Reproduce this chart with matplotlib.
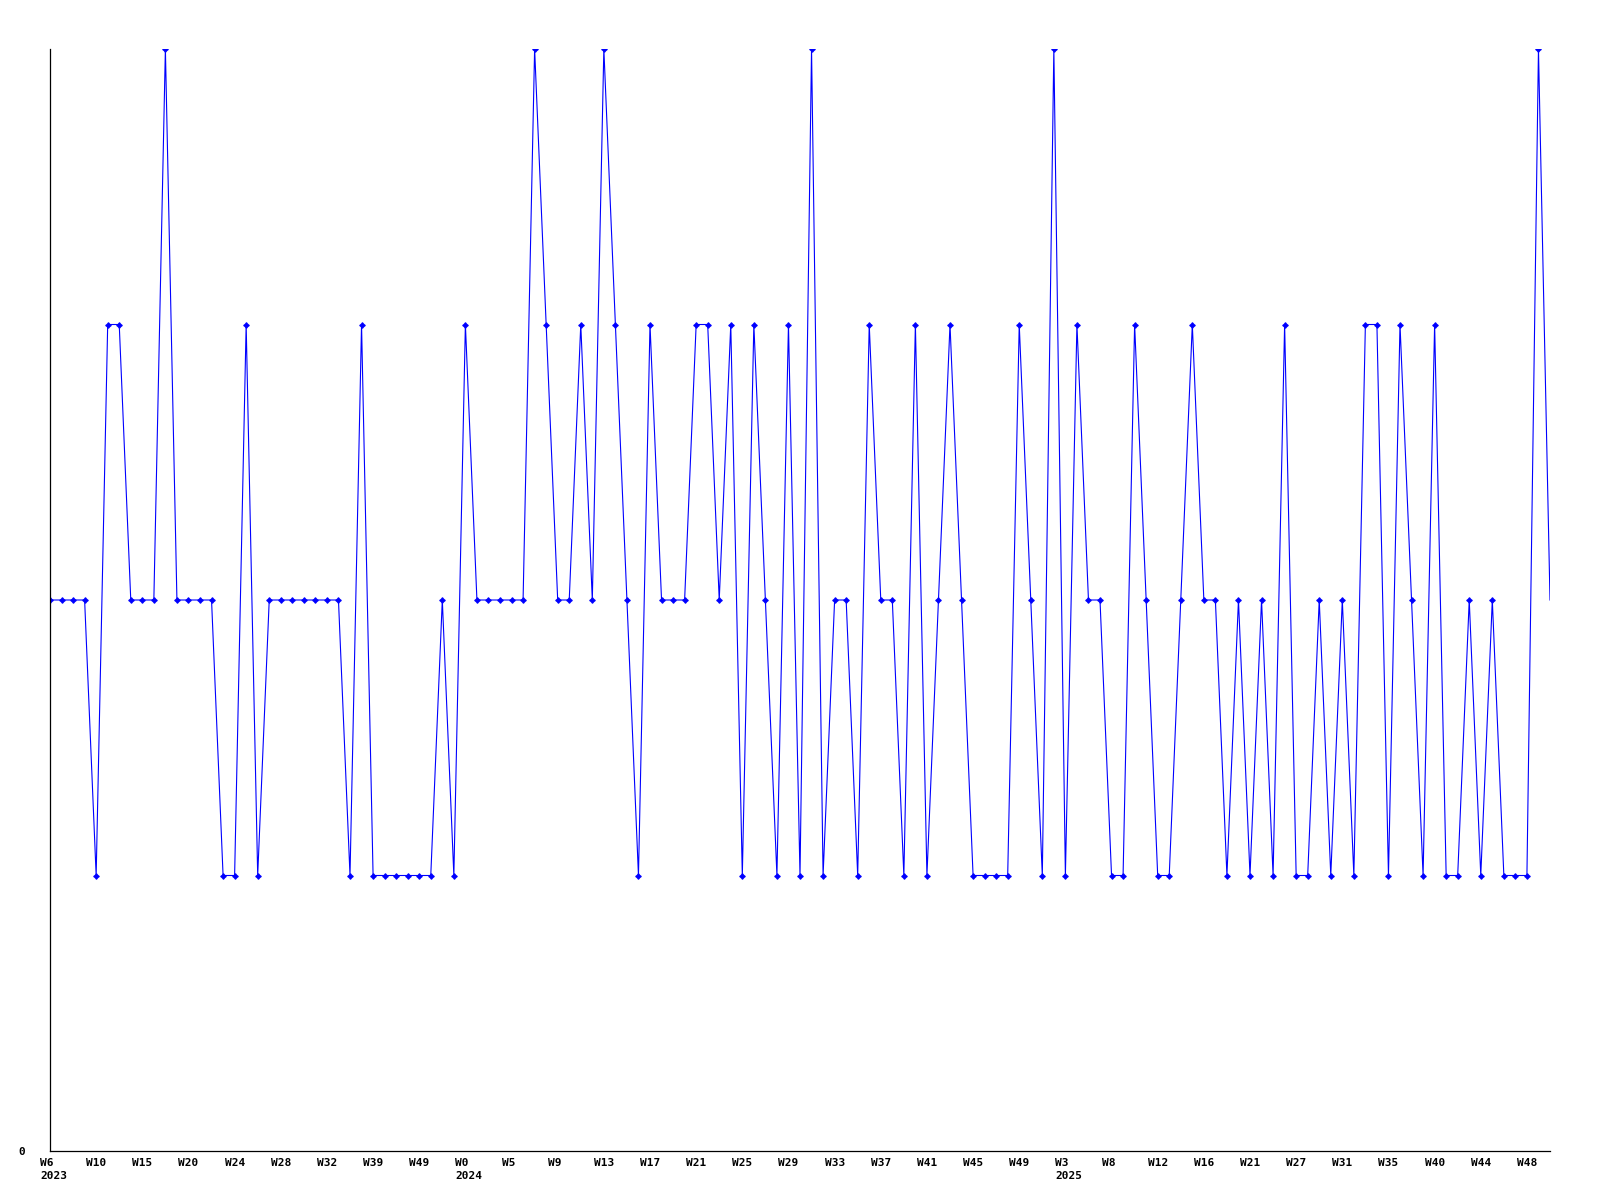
import matplotlib
matplotlib.use("agg")
import matplotlib.pyplot as plt
from matplotlib.transforms import ScaledTranslation

# weekly values, one per point (131 points)
values = [2, 2, 2, 2, 1, 3, 3, 2, 2, 2,
          4, 2, 2, 2, 2, 1, 1, 3, 1, 2,
          2, 2, 2, 2, 2, 2, 1, 3, 1, 1,
          1, 1, 1, 1, 2, 1, 3, 2, 2, 2,
          2, 2, 4, 3, 2, 2, 3, 2, 4, 3,
          2, 1, 3, 2, 2, 2, 3, 3, 2, 3,
          1, 3, 2, 1, 3, 1, 4, 1, 2, 2,
          1, 3, 2, 2, 1, 3, 1, 2, 3, 2,
          1, 1, 1, 1, 3, 2, 1, 4, 1, 3,
          2, 2, 1, 1, 3, 2, 1, 1, 2, 3,
          2, 2, 1, 2, 1, 2, 1, 3, 1, 1,
          2, 1, 2, 1, 3, 3, 1, 3, 2, 1,
          3, 1, 1, 2, 1, 2, 1, 1, 1, 4,
          2]

# tick labels, every 4th point
tick_labels = ["W6\n2023", "W10", "W15", "W20", "W24", "W28", "W32", "W39", "W49",
               "W0\n2024", "W5", "W9", "W13", "W17", "W21", "W25", "W29", "W33",
               "W37", "W41", "W45", "W49", "W3\n2025", "W8", "W12", "W16", "W21",
               "W27", "W31", "W35", "W40", "W44", "W48"]
tick_step = 4

fig = plt.figure(figsize=(16, 12), dpi=100)
ax = fig.add_axes([50 / 1600, 1 - 1151 / 1200, 1500 / 1600, 1102 / 1200])

x = list(range(len(values)))
ax.plot(x, values, color="#0000ff", lw=0.8)
# last point has no marker
ax.plot(x[:-1], values[:-1], ls="none", marker="D", ms=2.4, color="#0000ff")
ax.plot(x[:-1], values[:-1], ls="none", marker="+", ms=4.5, mew=1.0, color="#0000ff")

ax.set_xlim(0, len(values) - 1)
ax.set_ylim(0, 4)

for s in ["top", "right"]:
    ax.spines[s].set_visible(False)
for s in ["left", "bottom"]:
    ax.spines[s].set_linewidth(0.9)
    ax.spines[s].set_color("black")

ax.set_yticks([0])
ax.set_yticklabels(["0"], family="DejaVu Sans Mono", fontweight="bold", fontsize=8)
ax.tick_params(axis="y", length=0, pad=18)

ticks = [i * tick_step for i in range(len(tick_labels))]
ax.set_xticks(ticks)
ax.set_xticklabels(tick_labels, family="DejaVu Sans Mono", fontweight="bold",
                   fontsize=8, linespacing=1.4)
ax.tick_params(axis="x", length=0, pad=5)
shift = ScaledTranslation(-10 / 100, 0, fig.dpi_scale_trans)
for lab in ax.get_xticklabels():
    lab.set_ha("left")
    lab.set_multialignment("left")
    lab.set_transform(lab.get_transform() + shift)

plt.savefig("out.png", dpi=100)
plt.close()
